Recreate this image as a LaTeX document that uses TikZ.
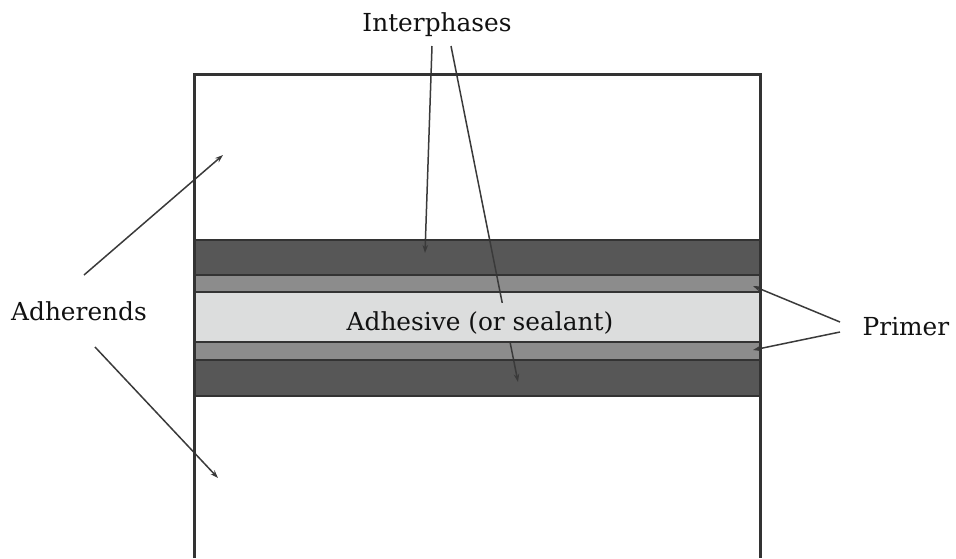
\documentclass[tikz,border=0pt]{standalone}
\usepackage{fontspec}
\setmainfont{DejaVu Serif}
\usetikzlibrary{arrows.meta}
\definecolor{darkband}{HTML}{575757}
\definecolor{primerband}{HTML}{8C8C8C}
\definecolor{adhband}{HTML}{DCDDDD}
\definecolor{edge}{HTML}{333333}
\definecolor{ptrcol}{HTML}{3A3A3A}
\definecolor{txt}{HTML}{111111}
\begin{document}
\begin{tikzpicture}[x=1pt,y=-1pt,
  lbl/.style={font=\fontsize{24.8}{29}\selectfont, text=txt, inner sep=2pt},
  ptr/.style={draw=ptrcol, line width=1.5pt, -{Stealth[length=8pt,width=5.5pt]}},
  bandline/.style={draw=edge, line width=2.4pt},
  boxline/.style={draw=edge, line width=3pt}]
\useasboundingbox (0,0) rectangle (956,558);
% layers
\fill[darkband] (194,240) rectangle (760,275);
\fill[primerband] (194,275) rectangle (760,292);
\fill[adhband] (194,292) rectangle (760,342);
\fill[primerband] (194,342) rectangle (760,360);
\fill[darkband] (194,360) rectangle (760,396);
% labels
\node[lbl] (interph) at (437,25) {Interphases};
\node[lbl] (adher) at (79,311) {Adherends};
\node[lbl] (primer) at (906,327) {Primer};
% endpoints
\coordinate (i1s) at (432,46);
\coordinate (i1t) at (425,253);
\coordinate (i2s) at (451,46);
\coordinate (i2t) at (518,382);
\coordinate (a1s) at (84,275);
\coordinate (a1t) at (223,155);
\coordinate (a2s) at (95,347);
\coordinate (a2t) at (218,478);
\coordinate (p1s) at (840,322);
\coordinate (p1t) at (753,286);
\coordinate (p2s) at (840,332);
\coordinate (p2t) at (753,350);
% connectors
\draw[ptr] (i1s) -- (i1t);
\draw[ptr] (i2s) -- (i2t);
\draw[ptr] (a1s) -- (a1t);
\draw[ptr] (a2s) -- (a2t);
\draw[ptr] (p1s) -- (p1t);
\draw[ptr] (p2s) -- (p2t);
% adhesive label covers pointer
\node[lbl, fill=adhband, inner xsep=4pt, minimum height=40pt] (adh) at (480,323) {Adhesive (or sealant)};
% band borders
\draw[bandline] (194,240) -- (760,240);
\draw[bandline] (194,275) -- (760,275);
\draw[bandline] (194,292) -- (760,292);
\draw[bandline] (194,342) -- (760,342);
\draw[bandline] (194,360) -- (760,360);
\draw[bandline] (194,396) -- (760,396);
% box
\draw[boxline] (194,558) -- (194,74) -- (760,74) -- (760,558);
\end{tikzpicture}
\end{document}
